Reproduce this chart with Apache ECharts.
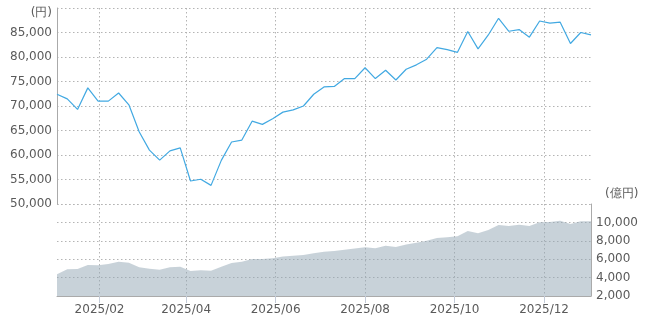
<!DOCTYPE html>
<html>
<head>
<meta charset="utf-8">
<script src="https://cdn.jsdelivr.net/npm/echarts@6/dist/echarts.min.js"></script>
<style>html,body{margin:0;padding:0;background:#fff;}#c{width:657px;height:323px;}</style>
</head>
<body>
<div id="c"></div>
<script>
const dates = [
 '2025-01-03','2025-01-10','2025-01-17','2025-01-24','2025-01-31',
 '2025-02-07','2025-02-14','2025-02-21','2025-02-28',
 '2025-03-07','2025-03-14','2025-03-21','2025-03-28',
 '2025-04-04','2025-04-11','2025-04-18','2025-04-25',
 '2025-05-02','2025-05-09','2025-05-16','2025-05-23','2025-05-30',
 '2025-06-06','2025-06-13','2025-06-20','2025-06-27',
 '2025-07-04','2025-07-11','2025-07-18','2025-07-25',
 '2025-08-01','2025-08-08','2025-08-15','2025-08-22','2025-08-29',
 '2025-09-05','2025-09-12','2025-09-19','2025-09-26',
 '2025-10-03','2025-10-10','2025-10-17','2025-10-24','2025-10-31',
 '2025-11-07','2025-11-14','2025-11-21','2025-11-28',
 '2025-12-05','2025-12-12','2025-12-19','2025-12-26',
 '2026-01-02'
];
const prices = [
 72400,71450,69300,73700,71000,71000,72650,70250,64750,61000,
 58950,60850,61450,54700,55050,53800,58900,62650,63050,66900,
 66250,67400,68750,69200,70000,72400,73900,74000,75600,75600,
 77800,75600,77300,75300,77500,78400,79550,81900,81500,80950,
 85200,81650,84500,87900,85250,85600,84050,87350,86900,87100,
 82750,85000,84500
];
const volumes = [
 4360,4900,4930,5370,5330,5480,5730,5620,5120,4950,
 4860,5120,5190,4720,4790,4750,5190,5590,5730,6020,
 6020,6100,6280,6380,6460,6640,6800,6880,7030,7160,
 7290,7180,7470,7330,7600,7800,8000,8300,8380,8490,
 9070,8810,9170,9720,9610,9750,9610,10010,10040,10190,
 9830,10120,10120
];
const tickDates = ['2025-02-01','2025-04-01','2025-06-01','2025-08-01','2025-10-01','2025-12-01'];

function ts(s){ const p = s.split('-'); return Date.UTC(+p[0], +p[1]-1, +p[2]); }
const xs = dates.map(ts);
const ticks = tickDates.map(ts);
const xMin = xs[0], xMax = xs[xs.length-1];
function fmtDate(v){ const d = new Date(v); const m = d.getUTCMonth()+1; return d.getUTCFullYear() + '/' + (m<10?'0':'') + m; }
function fmtNum(v){ return v.toLocaleString('en-US'); }

const FONT = 'DejaVu Sans';
const LABEL = '#5a5a5a';
const dotted = { show: true, lineStyle: { color: '#b4b4b4', type: [1.5, 2.5], width: 1 } };

const chart = echarts.init(document.getElementById('c'), null, { renderer: 'canvas' });
chart.setOption({
  animation: false,
  backgroundColor: '#fff',
  textStyle: { fontFamily: FONT },
  grid: [
    { left: 57, right: 66, top: 8, height: 196 },
    { left: 57, right: 66, top: 204, height: 92 }
  ],
  xAxis: [
    { type: 'value', gridIndex: 0, min: xMin, max: xMax,
      axisLine: { show: false }, axisTick: { show: false, customValues: ticks },
      axisLabel: { show: false, customValues: ticks }, splitLine: dotted },
    { type: 'value', gridIndex: 1, min: xMin, max: xMax,
      axisLine: { show: true, lineStyle: { color: '#aaa' } },
      axisTick: { show: true, length: 7, lineStyle: { color: '#c3cbd8' }, customValues: ticks },
      axisLabel: { show: true, customValues: ticks, formatter: fmtDate, color: LABEL, fontSize: 12, fontFamily: FONT, margin: 8 },
      splitLine: dotted }
  ],
  yAxis: [
    { type: 'value', gridIndex: 0, position: 'left', min: 50000, max: 90000, interval: 5000,
      name: '(円)', nameLocation: 'end', nameGap: -5,
      nameTextStyle: { color: LABEL, fontSize: 12, fontFamily: FONT, align: 'right', verticalAlign: 'middle', padding: [0, 5, 0, 0] },
      axisLine: { show: true, lineStyle: { color: '#aaa' } }, axisTick: { show: false },
      axisLabel: { color: LABEL, fontSize: 12, fontFamily: FONT, margin: 5, formatter: v => v === 90000 ? '' : fmtNum(v) },
      splitLine: dotted },
    { type: 'value', gridIndex: 1, position: 'right', min: 2000, max: 12000, interval: 2000,
      name: '(億円)', nameLocation: 'end', nameGap: 10,
      nameTextStyle: { color: LABEL, fontSize: 12, fontFamily: FONT, align: 'left', verticalAlign: 'middle', padding: [0, 0, 0, 14] },
      axisLine: { show: true, lineStyle: { color: '#aaa' } }, axisTick: { show: false },
      axisLabel: { color: LABEL, fontSize: 12, fontFamily: FONT, margin: 5, formatter: v => v === 12000 ? '' : fmtNum(v) },
      splitLine: dotted }
  ],
  series: [
    { type: 'line', xAxisIndex: 0, yAxisIndex: 0, showSymbol: false, symbol: 'none',
      lineStyle: { color: '#42a9e2', width: 1.2 },
      data: xs.map((x, i) => [x, prices[i]]) },
    { type: 'line', xAxisIndex: 1, yAxisIndex: 1, showSymbol: false, symbol: 'none',
      lineStyle: { width: 0 },
      areaStyle: { color: 'rgba(145,166,180,0.5)', opacity: 1 },
      data: xs.map((x, i) => [x, volumes[i]]) }
  ]
});
</script>
</body>
</html>
